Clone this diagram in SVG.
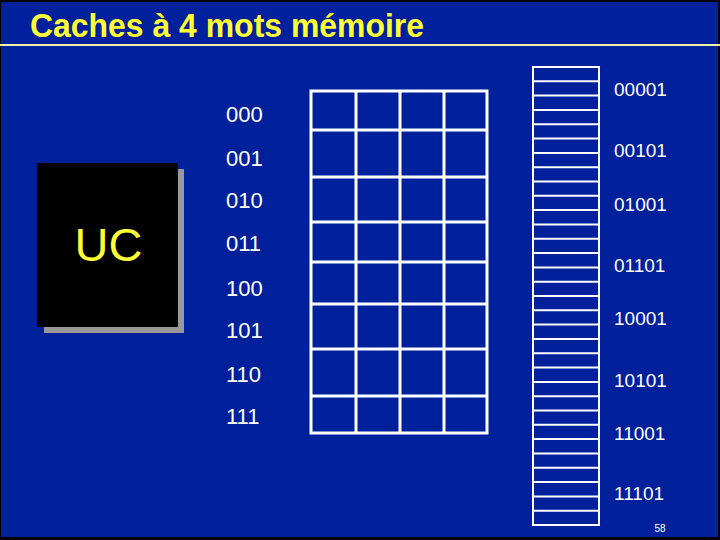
<svg xmlns="http://www.w3.org/2000/svg" width="720" height="540" viewBox="0 0 720 540">
<style>
.lbl{font-family:"Liberation Sans",Arial,sans-serif;fill:#ffffff;font-size:22px}
.mem{font-family:"Liberation Sans",Arial,sans-serif;fill:#ffffff;font-size:19px}
.grid{stroke:#ffffff;stroke-width:3;fill:none}
.mline{stroke:#ffffff;stroke-width:2;fill:none}
</style>
<rect x="0" y="0" width="720" height="540" fill="#000000"/>
<rect x="1" y="2" width="717" height="535" fill="#00209c"/>
<g id="title">
<text x="30" y="37" font-family="'Liberation Sans',Arial,sans-serif" font-weight="bold" font-size="33" fill="#ffff33" textLength="394" lengthAdjust="spacingAndGlyphs">Caches à 4 mots mémoire</text>
<line x1="0" y1="45" x2="720" y2="45" stroke="#f0f0a8" stroke-width="2"/>
</g>
<g id="uc">
<rect x="44" y="169" width="140" height="164" fill="#999999"/>
<rect x="37" y="163" width="141" height="164" fill="#000000"/>
<text x="108.5" y="261" text-anchor="middle" font-family="'Liberation Sans',Arial,sans-serif" font-size="47" fill="#ffff33">UC</text>
</g>
<g id="cache">
<rect class="grid" x="311" y="91" width="176" height="342"/>
<path class="grid" d="M356,91V433M400,91V433M444,91V433M311,130H487M311,177H487M311,222H487M311,262H487M311,304H487M311,349H487M311,396H487"/>
</g>
<g id="cache-labels">
<text class="lbl" x="226" y="122">000</text>
<text class="lbl" x="226" y="166">001</text>
<text class="lbl" x="226" y="208">010</text>
<text class="lbl" x="226" y="251">011</text>
<text class="lbl" x="226" y="296">100</text>
<text class="lbl" x="226" y="338">101</text>
<text class="lbl" x="226" y="382">110</text>
<text class="lbl" x="226" y="424">111</text>
</g>
<g id="memory">
<rect class="mline" x="533" y="67" width="66" height="458"/>
<path class="mline" d="M533,81.3H599M533,95.6H599M533,109.9H599M533,124.3H599M533,138.6H599M533,152.9H599M533,167.2H599M533,181.5H599M533,195.8H599M533,210.1H599M533,224.4H599M533,238.8H599M533,253.1H599M533,267.4H599M533,281.7H599M533,296H599M533,310.3H599M533,324.6H599M533,338.9H599M533,353.3H599M533,367.6H599M533,381.9H599M533,396.2H599M533,410.5H599M533,424.8H599M533,439.1H599M533,453.4H599M533,467.8H599M533,482.1H599M533,496.4H599M533,510.7H599"/>
</g>
<g id="memory-labels">
<text class="mem" x="614" y="96">00001</text>
<text class="mem" x="614" y="157">00101</text>
<text class="mem" x="614" y="211">01001</text>
<text class="mem" x="614" y="272">01101</text>
<text class="mem" x="614" y="325">10001</text>
<text class="mem" x="614" y="387">10101</text>
<text class="mem" x="614" y="440">11001</text>
<text class="mem" x="614" y="500">11101</text>
</g>
<text x="660" y="532" text-anchor="middle" font-family="'Liberation Sans',Arial,sans-serif" font-size="10" fill="#ffffff">58</text>
</svg>
